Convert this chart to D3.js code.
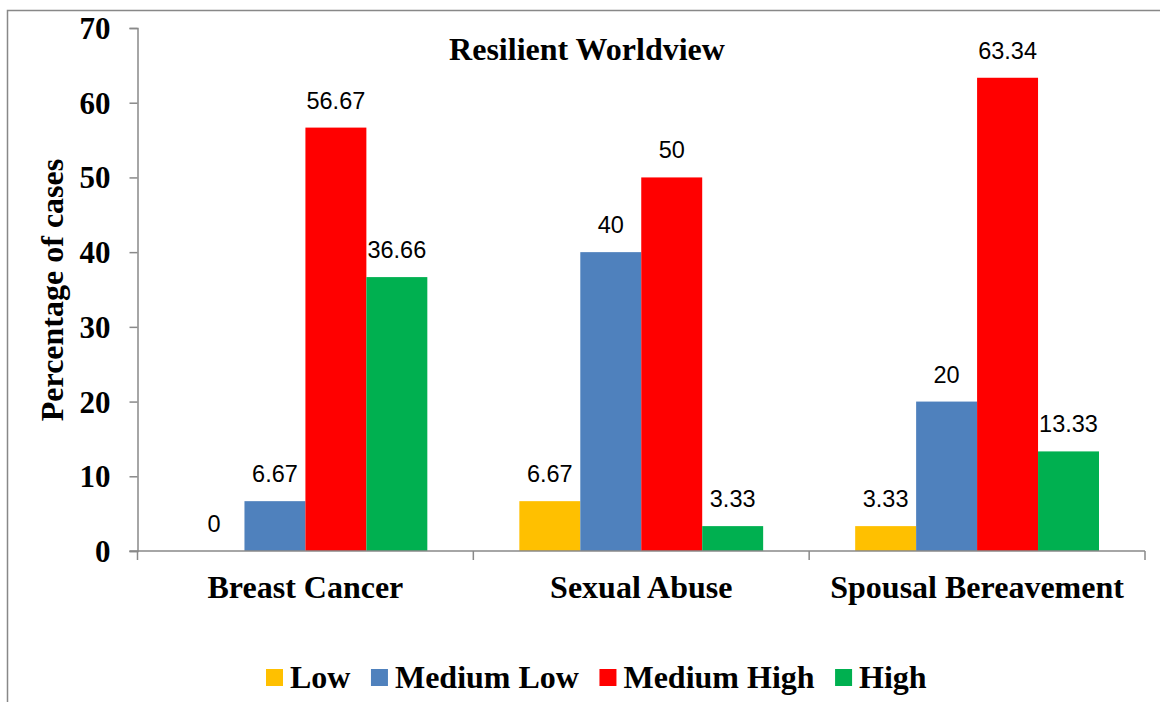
<!DOCTYPE html>
<html>
<head>
<meta charset="utf-8">
<script src="https://cdn.jsdelivr.net/npm/d3@7/dist/d3.min.js"></script>
<style>
  html, body { margin: 0; padding: 0; background: #fff; }
  svg { display: block; }
</style>
</head>
<body>
<svg id="chart" width="1160" height="702"></svg>
<script>
// ---- data ----
const categories = ["Breast Cancer", "Sexual Abuse", "Spousal Bereavement"];
const seriesNames = ["Low", "Medium Low", "Medium High", "High"];
const lowValues = [0, 6.67, 3.33];
const mediumLowValues = [6.67, 40, 20];
const mediumHighValues = [56.67, 50, 63.34];
const highValues = [36.66, 3.33, 13.33];
const yTickValues = [0, 10, 20, 30, 40, 50, 60, 70];
const seriesColors = ["#FFC000", "#4F81BD", "#FF0000", "#00B050"];
const chartTitle = "Resilient Worldview";
const yAxisTitle = "Percentage of cases";

const seriesValues = [lowValues, mediumLowValues, mediumHighValues, highValues];
const rows = [];
categories.forEach((c, ci) => {
  seriesNames.forEach((s, si) => rows.push({ cat: c, series: s, value: seriesValues[si][ci], color: seriesColors[si] }));
});

// ---- layout ----
const svg = d3.select("#chart");
const plot = { left: 137.5, right: 1145, top: 28, bottom: 551 };
const axisColor = "#898989";
const serif = "'Liberation Serif', 'Times New Roman', serif";
const sans = "'Liberation Sans', Arial, sans-serif";

// outer chart border (only top & left visible in frame)
svg.append("rect")
  .attr("x", 7.5).attr("y", 10.5)
  .attr("width", 1400).attr("height", 1000)
  .attr("fill", "none").attr("stroke", "#888").attr("stroke-width", 1.5);

const x0 = d3.scaleBand().domain(categories).range([plot.left, plot.right]).padding(0);
const bw = x0.bandwidth();
const x1 = d3.scaleBand().domain(seriesNames).range([bw * 0.137, bw * 0.863]).padding(0);
const y = d3.scaleLinear().domain([0, 70]).range([plot.bottom, plot.top]);

// bars
svg.append("g").selectAll("rect").data(rows).join("rect")
  .attr("x", d => x0(d.cat) + x1(d.series))
  .attr("y", d => y(d.value))
  .attr("width", x1.bandwidth())
  .attr("height", d => y(0) - y(d.value))
  .attr("fill", d => d.color);

// y axis
const yAxis = svg.append("g").attr("transform", `translate(${plot.left},0)`)
  .call(d3.axisLeft(y).tickValues(yTickValues).tickSize(8).tickPadding(19).tickFormat(d3.format("d")));
yAxis.select(".domain").attr("stroke", axisColor).attr("stroke-width", 1.5);
yAxis.selectAll(".tick line").attr("stroke", axisColor).attr("stroke-width", 1.5);
yAxis.selectAll(".tick text")
  .attr("font-family", serif).attr("font-weight", "bold").attr("font-size", 31)
  .attr("fill", "#000").attr("dy", "0.34em");

// x axis
const xAxisG = svg.append("g").attr("transform", `translate(0,${plot.bottom})`);
xAxisG.append("line")
  .attr("x1", plot.left - 8).attr("x2", plot.right)
  .attr("y1", 0).attr("y2", 0)
  .attr("stroke", axisColor).attr("stroke-width", 1.5);
const boundaries = categories.map(c => x0(c)).concat([x0(categories[categories.length - 1]) + bw]);
xAxisG.selectAll("line.tk").data(boundaries).join("line").attr("class", "tk")
  .attr("x1", d => d).attr("x2", d => d).attr("y1", 0).attr("y2", 9)
  .attr("stroke", axisColor).attr("stroke-width", 1.5);
xAxisG.selectAll("text").data(categories).join("text")
  .attr("x", d => x0(d) + bw / 2).attr("y", 47)
  .attr("text-anchor", "middle")
  .attr("font-family", serif).attr("font-weight", "bold").attr("font-size", 32)
  .attr("fill", "#000").text(d => d);

// data labels
svg.append("g").selectAll("text").data(rows).join("text")
  .attr("x", d => x0(d.cat) + x1(d.series) + x1.bandwidth() / 2)
  .attr("y", d => y(d.value) - 19)
  .attr("text-anchor", "middle")
  .attr("font-family", sans).attr("font-size", 23.5).attr("fill", "#000")
  .text(d => String(d.value));

// title
svg.append("text")
  .attr("x", 587).attr("y", 60).attr("text-anchor", "middle")
  .attr("font-family", serif).attr("font-weight", "bold").attr("font-size", 32)
  .attr("fill", "#000").text(chartTitle);

// y axis title
svg.append("text")
  .attr("transform", "translate(63,290) rotate(-90)")
  .attr("text-anchor", "middle")
  .attr("font-family", serif).attr("font-weight", "bold").attr("font-size", 32)
  .attr("fill", "#000").text(yAxisTitle);

// legend
const legend = svg.append("g");
let lx = 266;
seriesNames.forEach((s, i) => {
  legend.append("rect").attr("x", lx).attr("y", 669).attr("width", 17).attr("height", 17).attr("fill", seriesColors[i]);
  const t = legend.append("text").attr("x", lx + 24).attr("y", 688)
    .attr("font-family", serif).attr("font-weight", "bold").attr("font-size", 32)
    .attr("fill", "#000").text(s);
  lx += 24 + t.node().getComputedTextLength() + 20.5;
});
</script>
</body>
</html>
